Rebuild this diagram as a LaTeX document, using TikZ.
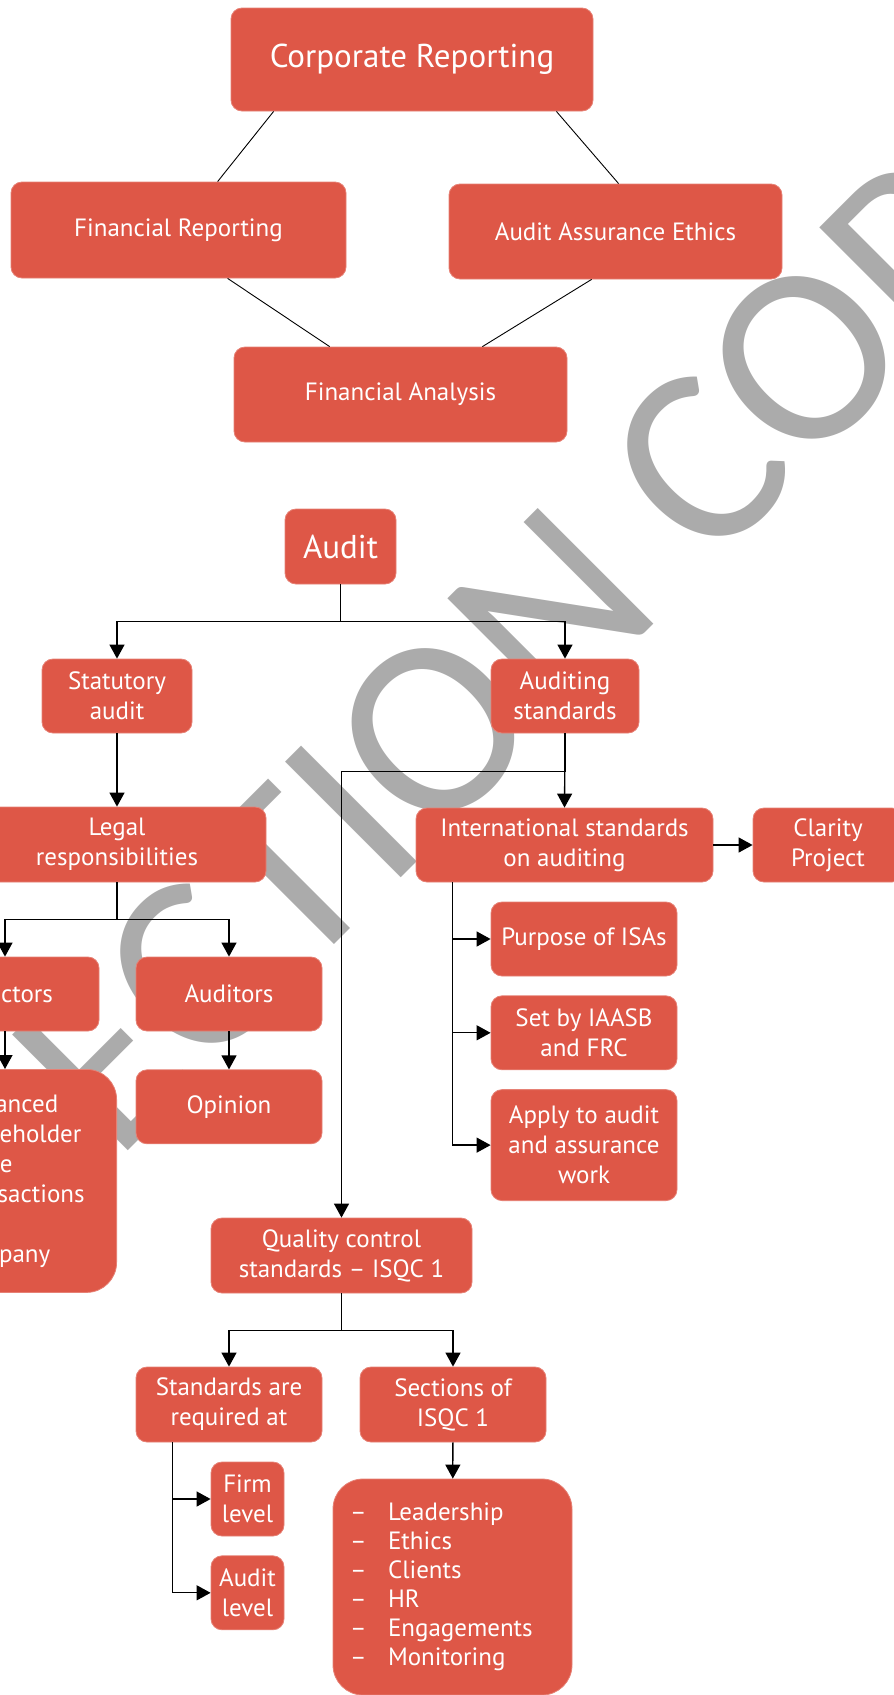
\documentclass[tikz,border=0pt]{standalone}
\usepackage{fontspec}
\setmainfont{PT Sans}
\newfontfamily\stampfont{Carlito}
\usetikzlibrary{arrows.meta, positioning, calc}
\definecolor{boxRed}{RGB}{222,87,71}
\definecolor{markGray}{RGB}{171,171,171}
\tikzset{
    font=\fontsize{25}{30}\selectfont,
    >={Triangle[length=14pt,width=15pt]},
    % Shapes
    comp/.style={rectangle, rounded corners=11pt, fill=boxRed, draw=boxRed!75!white, line width=0.8pt,
                 text=white, align=center, inner sep=2pt, minimum width=186pt, minimum height=74pt},
    compBig/.style={comp, rounded corners=30pt},
    bigText/.style={font=\fontsize{33}{38}\selectfont},
    % Flow & Labels
    flow/.style={->, line width=1.3pt},
    link/.style={line width=0.9pt},
    stamp/.style={text=markGray, rotate=45, inner sep=0pt, font=\stampfont\fontsize{255}{255}\selectfont}
}

\begin{document}
\begin{tikzpicture}[x=1pt, y=-1pt]

\useasboundingbox (0,0) rectangle (894,1695);
\clip (0,0) rectangle (894,1695);

% watermark
\node[stamp] (wm) at (382,781) {INSPECTION COPY};

% Corporate reporting
\node[comp, bigText, minimum width=362pt, minimum height=103pt] (corp) at (412,59.5) {Corporate Reporting};
\node[comp, minimum width=335pt, minimum height=96pt] (finrep) at (178.5,230) {Financial Reporting};
\node[comp, minimum width=333pt, minimum height=95pt] (aae) at (615.5,231.5) {Audit Assurance Ethics};
\node[comp, minimum width=333pt, minimum height=95pt] (finan) at (400.5,394.5) {Financial Analysis};

\draw[link] ([xshift=43pt]corp.south west) -- ([xshift=207pt]finrep.north west);
\draw[link] ([xshift=-37pt]corp.south east) -- ([xshift=170pt]aae.north west);
\draw[link] ([xshift=217pt]finrep.south west) -- ([xshift=96pt]finan.north west);
\draw[link] ([xshift=143pt]aae.south west) -- ([xshift=-85pt]finan.north east);

% Audit
\node[comp, bigText, minimum width=111pt, minimum height=75pt] (audit) at (340.5,546.5) {Audit};
\node[comp, minimum width=150pt] (statutory) at (117,696) {Statutory\\audit};
\node[comp, minimum width=148pt] (audstd) at (565,696) {Auditing\\standards};

\node[comp, minimum width=298pt, minimum height=75pt] (legal) at (117,844.5) {Legal\\responsibilities};
\node[comp, minimum width=297pt] (isa) at (564.5,845) {International standards\\on auditing};
\node[comp, minimum width=150pt] (clarity) at (828,845) {Clarity\\Project};

\node[comp, minimum width=188pt] (directors) at (5,994) {Directors};
\node[comp] (auditors) at (229,994) {Auditors};
\node[compBig, minimum width=172pt, text width=152pt, inner xsep=10pt, align=left,
      minimum height=223pt, anchor=north east] (duties) at (117,1069)
     {Enhanced\\shareholder\\value\\transactions\\of\\company};
\node[comp, below=38pt of auditors] (opinion) {Opinion};

\node[comp] (purpose) at (584,939) {Purpose of ISAs};
\node[comp, below=19pt of purpose] (setby) {Set by IAASB\\and FRC};
\node[comp, below=19pt of setby, minimum height=111pt] (apply) {Apply to audit\\and assurance\\work};

% Quality control
\node[comp, minimum width=261pt, minimum height=75pt] (qc) at (341.5,1255.5) {Quality control\\standards -- ISQC 1};
\node[comp, minimum height=75pt] (required) at (229,1404.5) {Standards are\\required at};
\node[comp, minimum height=75pt] (sections) at (453,1404.5) {Sections of\\ISQC 1};
\node[comp, minimum width=73pt] (firm) at (247.5,1499) {Firm\\level};
\node[comp, minimum width=73pt, below=19pt of firm] (auditlvl) {Audit\\level};
\node[compBig, minimum width=239pt, minimum height=216pt, text width=205pt, inner xsep=17pt,
      align=left, font=\fontsize{25}{29}\selectfont] (list) at (452.5,1587)
     {\makebox[38pt][l]{--}Leadership\\\makebox[38pt][l]{--}Ethics\\\makebox[38pt][l]{--}Clients\\
      \makebox[38pt][l]{--}HR\\\makebox[38pt][l]{--}Engagements\\\makebox[38pt][l]{--}Monitoring};

% connectors
\draw[flow] (audit.south) -- ++(0,37) -| (statutory.north);
\draw[flow] (audit.south) -- ++(0,37) -| (audstd.north);
\draw[flow] (statutory) -- (legal);
\draw[flow] (audstd.south) -- (isa.north);
\draw[flow] (audstd.south) -- ++(0,38) -| (qc.north);
\draw[flow] (legal.south) -- ++(0,37) -| (directors.north);
\draw[flow] (legal.south) -- ++(0,37) -| (auditors.north);
\draw[flow] (isa) -- (clarity);
\draw[flow] ([xshift=37pt]isa.south west) |- (purpose.west);
\draw[flow] ([xshift=37pt]isa.south west) |- (setby.west);
\draw[flow] ([xshift=37pt]isa.south west) |- (apply.west);
\draw[flow] (directors.south) -- (directors.south |- duties.north);
\draw[flow] (auditors) -- (opinion);
\draw[flow] (qc.south) -- ++(0,37) -| (required.north);
\draw[flow] (qc.south) -- ++(0,37) -| (sections.north);
\draw[flow] (sections) -- (list);
\draw[flow] ([xshift=37pt]required.south west) |- (firm.west);
\draw[flow] ([xshift=37pt]required.south west) |- (auditlvl.west);

\end{tikzpicture}
\end{document}
